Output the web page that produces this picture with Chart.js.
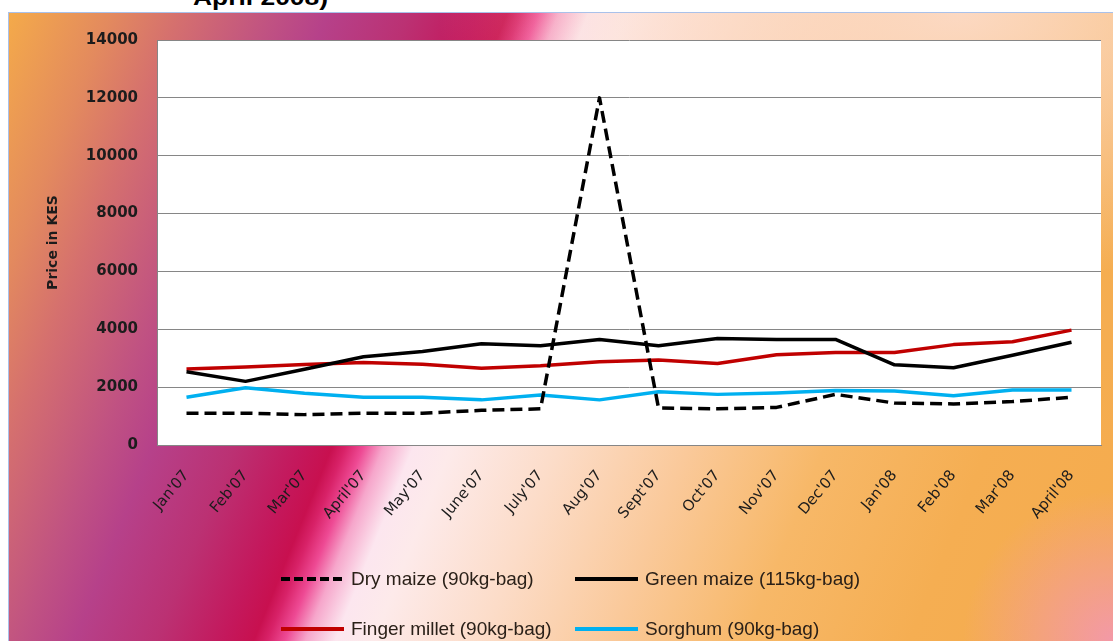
<!DOCTYPE html>
<html>
<head>
<meta charset="utf-8">
<script src="https://cdn.jsdelivr.net/npm/chart.js@4/dist/chart.umd.min.js"></script>
<style>
  html, body { margin: 0; padding: 0; width: 1113px; height: 641px; overflow: hidden; background: #fff; }
  #frame {
    position: absolute; left: 8px; top: 12px; width: 1105px; height: 629px;
    box-sizing: border-box;
    border-top: 1px solid #a9c1ea; border-left: 1px solid #a9c1ea;
    background:
      radial-gradient(circle at 100% 100%, rgba(243,152,172,0.95) 0px, rgba(243,152,172,0) 150px),
      radial-gradient(ellipse 520px 270px at 86% 0%, rgba(252,218,198,0.95) 0%, rgba(252,218,198,0.55) 45%, rgba(252,218,198,0) 100%),
      linear-gradient(112deg,
        #f4aa4a 0%, #e38a5e 7.5%, #d5706e 12.5%, #c05282 19.5%, #b6418a 23.5%,
        #bb3173 29.5%, #c4185c 34.5%, #c8104f 36.7%, #d82268 37.7%, #ee4a94 39%, #f6a6cb 40.5%,
        #fce6ef 42.7%, #fdeaea 45.5%, #fcdcc8 53.5%, #fac99a 63%, #f7b868 73%,
        #f5ae52 85%, #f5ab4d 100%);
  }
  #heading {
    position: absolute; left: 193px; top: -13px;
    font: bold 22px "Liberation Sans", Arial, sans-serif; line-height: 22px;
    color: #000; white-space: nowrap;
    transform: scaleX(1.2); transform-origin: left top;
  }
  #chart { position: absolute; left: 0; top: 0; }
  #legend {
    position: absolute; left: 281px; top: 554px;
    display: grid; grid-template-columns: 294px auto; grid-auto-rows: 50px;
    font: 19px "Liberation Sans", Arial, sans-serif; color: #2a2018;
  }
  #legend .item { display: flex; align-items: center; white-space: nowrap; }
  #legend .swatch { width: 63px; height: 4px; margin-right: 7px; flex: none; }
</style>
</head>
<body>
<div id="frame"></div>
<div id="heading">April 2008)</div>
<canvas id="chart" width="1113" height="641"></canvas>
<div id="legend"></div>

<script>
// Monthly prices per bag, January 2007 to April 2008
const months = ["Jan'07", "Feb'07", "Mar'07", "April'07", "May'07", "June'07", "July'07", "Aug'07",
                "Sept'07", "Oct'07", "Nov'07", "Dec'07", "Jan'08", "Feb'08", "Mar'08", "April'08"];

const dryMaize     = [1100, 1100, 1050, 1100, 1100, 1200, 1250, 12000, 1280, 1250, 1300, 1750, 1450, 1420, 1500, 1650];
const greenMaize   = [2530, 2200, 2620, 3050, 3230, 3500, 3430, 3650, 3430, 3680, 3650, 3650, 2770, 2670, 3100, 3550];
const fingerMillet = [2630, 2700, 2780, 2850, 2790, 2650, 2740, 2880, 2940, 2820, 3120, 3200, 3200, 3470, 3570, 3970];
const sorghum      = [1650, 1980, 1790, 1650, 1650, 1560, 1730, 1560, 1840, 1750, 1800, 1880, 1870, 1700, 1900, 1900];

const seriesNames = ["Dry maize (90kg-bag)", "Green maize (115kg-bag)", "Finger millet (90kg-bag)", "Sorghum (90kg-bag)"];
const yRange = { min: 0, max: 14000, step: 2000 };

const gridGrey = '#868686';

// white plotting area on top of the coloured backdrop
const plotFill = {
  id: 'plotFill',
  beforeDraw(chart) {
    const { ctx, chartArea: a } = chart;
    ctx.save();
    ctx.fillStyle = '#ffffff';
    ctx.fillRect(a.left, a.top, a.right - a.left, a.bottom - a.top);
    ctx.restore();
  }
};

const styles = [
  { color: '#000000', dash: [12, 6] },
  { color: '#000000', dash: [] },
  { color: '#c00000', dash: [] },
  { color: '#00b0f0', dash: [] }
];
const values = [dryMaize, greenMaize, fingerMillet, sorghum];

new Chart(document.getElementById('chart'), {
  type: 'line',
  data: {
    labels: months,
    datasets: values.map((v, i) => ({
      label: seriesNames[i],
      data: v,
      borderColor: styles[i].color,
      backgroundColor: styles[i].color,
      borderDash: styles[i].dash,
      borderWidth: 3.5,
      pointRadius: 0,
      tension: 0,
      fill: false
    }))
  },
  options: {
    responsive: false,
    animation: false,
    devicePixelRatio: 1,
    layout: { padding: { left: 41, top: 40, right: 12, bottom: 0 } },
    plugins: { legend: { display: false }, tooltip: { enabled: false } },
    elements: { line: { borderCapStyle: 'butt', borderJoinStyle: 'round' } },
    scales: {
      x: {
        offset: true,
        grid: { display: false, drawTicks: false },
        border: { display: true, color: gridGrey, width: 1 },
        ticks: {
          minRotation: 50, maxRotation: 50, autoSkip: false, padding: 22,
          color: '#1c1c1c', font: { family: 'DejaVu Sans', size: 15 }
        },
        afterFit(s) { s.height = 196; }
      },
      y: {
        min: yRange.min, max: yRange.max,
        grid: { color: gridGrey, drawTicks: false },
        border: { display: true, color: gridGrey, width: 1 },
        ticks: {
          stepSize: yRange.step, padding: 19,
          color: '#1c1c1c', font: { family: 'DejaVu Sans', size: 15, weight: 'bold' },
          callback: v => String(v)
        },
        title: {
          display: true, text: 'Price in KES', color: '#1c1c1c',
          font: { family: 'DejaVu Sans', size: 14, weight: 'bold' }
        },
        afterFit(s) { s.width = 116; }
      }
    }
  },
  plugins: [plotFill]
});

// legend laid out as a two-column grid beneath the chart
const legend = document.getElementById('legend');
seriesNames.forEach((name, i) => {
  const item = document.createElement('div');
  item.className = 'item';
  const sw = document.createElement('span');
  sw.className = 'swatch';
  sw.style.background = styles[i].dash.length
    ? `repeating-linear-gradient(90deg, ${styles[i].color} 0 9px, transparent 9px 13px)`
    : styles[i].color;
  const tx = document.createElement('span');
  tx.textContent = name;
  item.appendChild(sw);
  item.appendChild(tx);
  legend.appendChild(item);
});
</script>
</body>
</html>
